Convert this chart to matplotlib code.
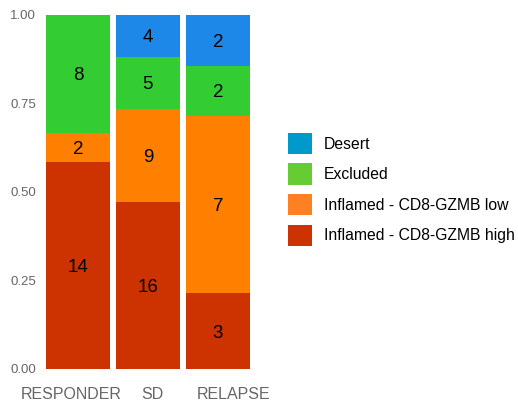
import matplotlib
matplotlib.use("Agg")
import matplotlib.pyplot as plt
from matplotlib.patches import Patch
import numpy as np

groups = ["RESPONDER", "SD", "RELAPSE"]
series = ["Inflamed - CD8-GZMB high", "Inflamed - CD8-GZMB low", "Excluded", "Desert"]
high = [14, 16, 3]
low = [2, 9, 7]
excluded = [8, 5, 2]
desert = [0, 4, 2]

bar_colors = ["#CC3300", "#FF8000", "#33CC33", "#1E88E8"]
legend_colors = ["#CC3300", "#FF8022", "#66CC33", "#0099CC"]

counts = np.array([high, low, excluded, desert], dtype=float)
totals = counts.sum(axis=0)
props = counts / totals

fig = plt.figure(figsize=(5.18, 4.05), dpi=100)
ax = fig.add_axes([0.083, 0.089, 0.405, 0.874])
x = np.arange(len(groups))
bottom = np.zeros(len(groups))
for i in range(len(series)):
    ax.bar(x, props[i], bottom=bottom, width=0.914, color=bar_colors[i], linewidth=0)
    for j in range(len(groups)):
        if counts[i, j] > 0:
            ax.text(x[j], bottom[j] + props[i, j] / 2, f"{int(counts[i, j])}",
                    ha="center", va="center_baseline", fontsize=13.5, color="black",
                    family="Liberation Sans")
    bottom += props[i]

ax.set_xlim(-0.5, 2.5)
ax.set_ylim(0, 1)
ax.set_yticks([0, 0.25, 0.5, 0.75, 1.0])
ax.set_yticklabels(["0.00", "0.25", "0.50", "0.75", "1.00"])
label_shift = np.array([-0.1, 0.06, 0.23])
ax.set_xticks(x + label_shift)
ax.set_xticklabels(groups)
for s in ax.spines.values():
    s.set_visible(False)
ax.tick_params(axis="both", length=0)
ax.tick_params(axis="y", labelsize=9.5, labelcolor="#666666", pad=5)
ax.tick_params(axis="x", labelsize=11.5, labelcolor="#666666", pad=13)
for lab in ax.get_xticklabels() + ax.get_yticklabels():
    lab.set_family("Liberation Sans")

handles = [Patch(facecolor=legend_colors[i], edgecolor="none") for i in [3, 2, 1, 0]]
labels = [series[i] for i in [3, 2, 1, 0]]
fig.legend(handles, labels, loc="upper left", bbox_to_anchor=(0.556, 0.672),
           frameon=False, handlelength=1.5, handleheight=1.7,
           handletextpad=0.8, labelspacing=0.6, borderaxespad=0, borderpad=0,
           prop={"family": "Liberation Sans", "size": 11.3})

fig.savefig("out.png", dpi=100)
